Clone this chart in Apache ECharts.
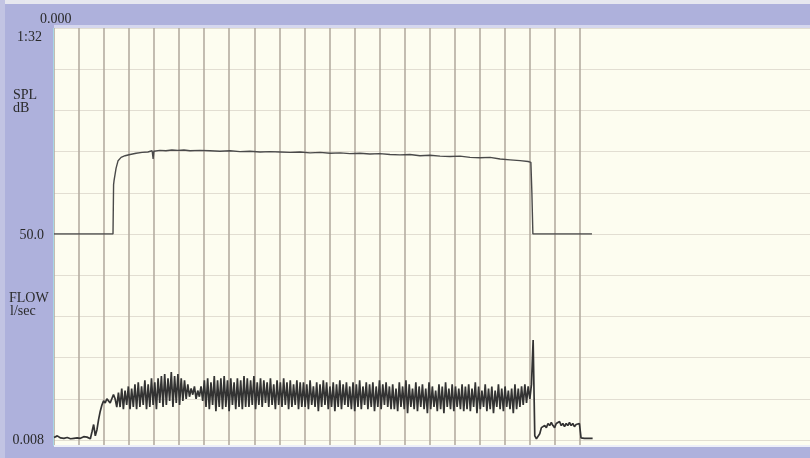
<!DOCTYPE html>
<html>
<head>
<meta charset="utf-8">
<script src="https://cdn.jsdelivr.net/npm/echarts@6/dist/echarts.min.js"></script>
<style>
  html, body { margin: 0; padding: 0; background: #aeb1dc; }
  #chart { width: 810px; height: 458px; }
</style>
</head>
<body>
<div id="chart"></div>
<script>
// SPL trace: [time s, dB]
var splPoints = [
  [0, 50], [0.2357, 50], [0.238, 62], [0.240, 63], [0.248, 66], [0.256, 67.8],
  [0.268, 68.6], [0.284, 69.0], [0.304, 69.3], [0.328, 69.6], [0.352, 69.8],
  [0.375, 69.9], [0.392, 70.2], [0.396, 68.2], [0.399, 70.1], [0.423, 70.3],
  [0.447, 70.2], [0.471, 70.4], [0.495, 70.3], [0.519, 70.4], [0.543, 70.2],
  [0.583, 70.3], [0.623, 70.2], [0.663, 70.1], [0.703, 70.2], [0.743, 70.0],
  [0.783, 70.1], [0.823, 69.9], [0.863, 70.0], [0.903, 69.9], [0.943, 69.8],
  [0.983, 69.9], [1.023, 69.7], [1.063, 69.8], [1.103, 69.6], [1.143, 69.7],
  [1.182, 69.5], [1.222, 69.6], [1.262, 69.4], [1.302, 69.5], [1.342, 69.3],
  [1.382, 69.2], [1.422, 69.3], [1.462, 69.0], [1.502, 69.1], [1.542, 68.9],
  [1.582, 68.8], [1.622, 68.9], [1.662, 68.6], [1.702, 68.5], [1.742, 68.6],
  [1.782, 68.2], [1.822, 68.0], [1.862, 67.8], [1.894, 67.6], [1.905, 67.4],
  [1.909, 60], [1.913, 50], [2.149, 50]
];

// FLOW trace, l/sec, sampled every flowStep seconds
var flowStep = 0.0066;
var flowValues = [
  0.012, 0.018, 0.02, 0.014, 0.01, 0.012, 0.008, 0.01, 0.012, 0.008, 0.006,
  0.01, 0.008, 0.008, 0.01, 0.006, 0.008, 0.012, 0.016, 0.01, 0.014, 0.008,
  0.006, 0.04, 0.075, 0.02, 0.05, 0.1, 0.14, 0.17, 0.19, 0.18, 0.2, 0.19, 0.18,
  0.2, 0.22, 0.2, 0.16,
  0.23, 0.16, 0.25, 0.15, 0.24, 0.17, 0.26, 0.15, 0.25, 0.16, 0.27, 0.15,
  0.28, 0.16, 0.26, 0.17, 0.29, 0.15, 0.27, 0.16, 0.30, 0.17, 0.28, 0.15, 0.30, 0.18, 0.31, 0.16,
  0.32, 0.17, 0.30, 0.19, 0.33, 0.16, 0.31, 0.18, 0.32, 0.17, 0.30, 0.19, 0.29, 0.20,
  0.27, 0.21, 0.25, 0.22, 0.26, 0.20, 0.24, 0.21, 0.26, 0.19,
  0.29, 0.16, 0.30, 0.15, 0.28, 0.17, 0.31, 0.14, 0.29, 0.16, 0.30, 0.15, 0.31, 0.16,
  0.29, 0.14, 0.30, 0.17, 0.28, 0.15, 0.30, 0.16, 0.29, 0.15, 0.31, 0.16,
  0.30, 0.16, 0.29, 0.17, 0.31, 0.15, 0.28, 0.17, 0.30, 0.16, 0.29, 0.18, 0.28, 0.16,
  0.30, 0.17, 0.27, 0.15, 0.29, 0.17, 0.28, 0.16, 0.30, 0.17, 0.28, 0.15, 0.29, 0.16,
  0.27, 0.17, 0.29, 0.15, 0.28, 0.16,
  0.28, 0.16, 0.27, 0.15, 0.29, 0.17, 0.26, 0.16, 0.28, 0.14, 0.27, 0.16, 0.29, 0.17,
  0.28, 0.15, 0.26, 0.16, 0.28, 0.14, 0.27, 0.16, 0.29, 0.15, 0.27, 0.17, 0.28, 0.16,
  0.26, 0.15, 0.28, 0.14, 0.27, 0.16, 0.29, 0.15, 0.26, 0.17, 0.28, 0.15, 0.27, 0.16,
  0.28, 0.14, 0.26, 0.16, 0.29, 0.15, 0.27, 0.17, 0.28, 0.16, 0.26, 0.15,
  0.27, 0.15, 0.25, 0.14, 0.28, 0.16, 0.26, 0.15, 0.29, 0.13, 0.27, 0.16, 0.25, 0.15,
  0.28, 0.14, 0.26, 0.16, 0.27, 0.15, 0.25, 0.13, 0.28, 0.15, 0.26, 0.16, 0.24, 0.14,
  0.27, 0.15, 0.26, 0.13, 0.28, 0.16, 0.25, 0.15, 0.27, 0.14, 0.26, 0.16, 0.25, 0.15,
  0.27, 0.14,
  0.26, 0.15, 0.27, 0.14, 0.25, 0.16, 0.28, 0.13, 0.26, 0.15, 0.24, 0.16, 0.27, 0.14,
  0.25, 0.15, 0.26, 0.13, 0.24, 0.16, 0.27, 0.15, 0.25, 0.14, 0.26, 0.16, 0.24, 0.15,
  0.25, 0.13, 0.27, 0.15, 0.25, 0.16, 0.26, 0.17, 0.27, 0.18, 0.26, 0.20,
  0.27, 0.485, 0.02, 0.006, 0.008, 0.03, 0.06, 0.055,
  0.07, 0.06, 0.08, 0.07, 0.085, 0.07, 0.06, 0.08, 0.075, 0.09, 0.07, 0.08,
  0.065, 0.08, 0.07, 0.085, 0.07, 0.08, 0.065, 0.075, 0.07, 0.08,
  0.01, 0.008, 0.008, 0.008, 0.008, 0.008, 0.008, 0.008
];

// side labels
var timeStartLabel = '0.000';
var timeEndLabel = '1:32';
var splLabel = ['SPL', 'dB'];
var splBaseLabel = '50.0';
var flowLabel = ['FLOW', 'l/sec'];
var flowBaseLabel = '0.008';

var flowData = flowValues.map(function (v, i) { return [i * flowStep, v]; });

var serif = '"Liberation Serif", "DejaVu Serif", serif';
var hLine = { color: '#e2ded2', width: 1 };

function label(text, x, y, align) {
  return {
    type: 'text', x: x, y: y, z: 10,
    style: {
      text: text, fill: '#2a2a2a', font: '14px ' + serif,
      textAlign: align || 'left', textVerticalAlign: 'top'
    }
  };
}

var chart = echarts.init(document.getElementById('chart'));
chart.setOption({
  animation: false,
  backgroundColor: '#aeb1dc',
  grid: [
    { left: 54, top: 28, right: 0, bottom: 13, show: true, backgroundColor: '#fdfdf0', borderWidth: 0 },
    { left: 54, top: 28, right: 0, bottom: 224 },
    { left: 54, top: 234, right: 0, bottom: 18 },
    { left: 54, top: 28, width: 525.7, bottom: 13 }
  ],
  xAxis: [
    { gridIndex: 0, type: 'value', show: false, min: 0, max: 1 },
    { gridIndex: 1, type: 'value', show: false, min: 0, max: 3.02 },
    { gridIndex: 2, type: 'value', show: false, min: 0, max: 3.02 },
    {
      gridIndex: 3, type: 'value', min: 0, max: 2.1, interval: 0.1,
      axisLine: { show: false }, axisTick: { show: false }, axisLabel: { show: false },
      splitLine: { show: true, lineStyle: { color: '#b4aca1', width: 1.6 } }
    }
  ],
  yAxis: [
    { gridIndex: 0, type: 'value', show: false, min: 0, max: 1 },
    {
      gridIndex: 1, type: 'value', min: 50, max: 100, interval: 10,
      axisLine: { show: false }, axisTick: { show: false }, axisLabel: { show: false },
      splitLine: { show: true, lineStyle: hLine }
    },
    {
      gridIndex: 2, type: 'value', min: 0, max: 1, interval: 0.2,
      axisLine: { show: false }, axisTick: { show: false }, axisLabel: { show: false },
      splitLine: { show: true, lineStyle: hLine }
    },
    { gridIndex: 3, type: 'value', show: false, min: 0, max: 1 }
  ],
  series: [
    {
      name: 'SPL', type: 'line', xAxisIndex: 1, yAxisIndex: 1,
      data: splPoints, showSymbol: false, silent: true,
      lineStyle: { color: '#4a4a4a', width: 1.4 }
    },
    {
      name: 'FLOW', type: 'line', xAxisIndex: 2, yAxisIndex: 2,
      data: flowData, showSymbol: false, silent: true,
      lineStyle: { color: '#333333', width: 1.7 }
    }
  ],
  graphic: [
    { type: 'rect', shape: { x: 0, y: 0, width: 810, height: 4 }, style: { fill: '#e6e7ef' }, z: 1 },
    { type: 'rect', shape: { x: 0, y: 0, width: 5, height: 458 }, style: { fill: '#c2c4e3' }, z: 1 },
    { type: 'rect', shape: { x: 54, y: 25, width: 756, height: 3 }, style: { fill: '#d5d7ee' }, z: 1 },
    { type: 'rect', shape: { x: 54, y: 445, width: 756, height: 2 }, style: { fill: '#eceef8' }, z: 1 },
    { type: 'line', shape: { x1: 53.5, y1: 28, x2: 53.5, y2: 446 }, style: { stroke: '#a8d6e6', lineWidth: 1 }, z: 1 },
    label(timeStartLabel, 40, 12),
    label(timeEndLabel, 17, 30),
    label(splLabel[0], 13, 88),
    label(splLabel[1], 13, 101),
    label(splBaseLabel, 44, 228, 'right'),
    label(flowLabel[0], 9, 291),
    label(flowLabel[1], 10, 304),
    label(flowBaseLabel, 44, 433, 'right')
  ]
});
</script>
</body>
</html>
